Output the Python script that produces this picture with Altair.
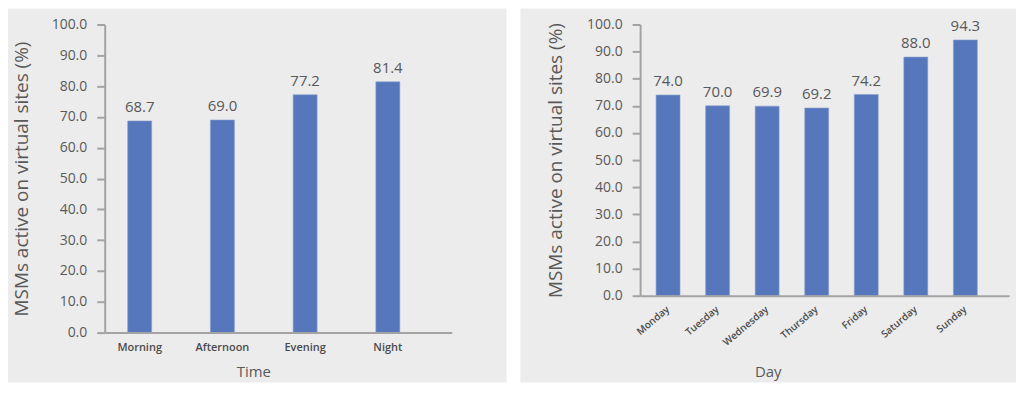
import altair as alt
import pandas as pd

time_cats = ["Morning", "Afternoon", "Evening", "Night"]
time_vals = [68.7, 69.0, 77.2, 81.4]
day_cats = ["Monday", "Tuesday", "Wednesday", "Thursday", "Friday", "Saturday", "Sunday"]
day_vals = [74.0, 70.0, 69.9, 69.2, 74.2, 88.0, 94.3]
y_title = "MSMs active on virtual sites (%)"

BAR = "#5677bb"
TXT = "#595959"
AX = "#a3a3a3"
BG = "#ececec"
FONT = "Open Sans"

df_time = pd.DataFrame({"Time": time_cats, "v": time_vals})
df_day = pd.DataFrame({"Day": day_cats, "v": day_vals})
bg_data = alt.Data(values=[{"k": 1}])


def panel(df, cat, cats, W, H, rect_l, rect_r, rect_t, rect_b, scale_kw, x_axis_kw, y_title_x):
    bg = alt.Chart(bg_data).mark_rect(color=BG, clip=False).encode(
        x=alt.value(rect_l), x2=alt.value(rect_r),
        y=alt.value(rect_t), y2=alt.value(rect_b),
    )
    x = alt.X(f"{cat}:N", sort=cats, scale=alt.Scale(**scale_kw),
              axis=alt.Axis(title=cat, domainColor=AX, domainWidth=2, ticks=False,
                            labelColor="#4a4a4a", labelFont=FONT, titleFont=FONT,
                            titleColor=TXT, titleFontSize=15, titleFontWeight="normal",
                            titleBaseline="middle", grid=False, zindex=1,
                            labelOverlap=False, **x_axis_kw))
    y = alt.Y("v:Q", scale=alt.Scale(domain=[0, 100], nice=False),
              axis=alt.Axis(title=y_title, values=list(range(0, 101, 10)), format=".1f",
                            domainColor=AX, domainWidth=2, tickColor=AX, tickWidth=2,
                            tickSize=8, labelPadding=10, labelFontSize=14, labelColor=TXT,
                            labelFont=FONT, titleFont=FONT, titleColor=TXT,
                            titleFontSize=19, titleFontWeight="normal", grid=False,
                            labelOverlap=False, labelFlush=False,
                            titleX=y_title_x, titleBaseline="middle", zindex=1))
    bars = alt.Chart(df).mark_bar(color=BAR, stroke="#8aa0cc", strokeWidth=0.6).encode(x=x, y=y)
    labels = alt.Chart(df).mark_text(dy=-6, baseline="bottom", fontSize=15, color=TXT, font=FONT).encode(
        x=x, y=y, text=alt.Text("v:Q", format=".1f"))
    return alt.layer(bg, bars, labels).properties(width=W, height=H)


left = panel(
    df_time, "Time", time_cats, 348, 309,
    -97, 403, -16, 359,
    dict(paddingInner=0.71, paddingOuter=0.452, align=0.307),
    dict(labelAngle=0, labelFontSize=11, labelFontWeight=600, labelPadding=9,
         titleX=149, titleY=39),
    -83,
)
right = panel(
    df_day, "Day", day_cats, 370, 272,
    -120, 377, -16, 359,
    dict(paddingInner=0.517, paddingOuter=0.481, align=0.335),
    dict(labelAngle=-40, labelFontSize=10, labelFontWeight=600, labelPadding=12,
         labelAlign="right", labelBaseline="middle", titleX=128, titleY=76),
    -85,
)

chart = alt.hconcat(left, right, spacing=14).properties(
    padding=0, background="white"
).configure_view(stroke=None).configure_axis(domainCap="butt")

chart.save("out.html", embed_options={"renderer": "svg", "actions": False})
